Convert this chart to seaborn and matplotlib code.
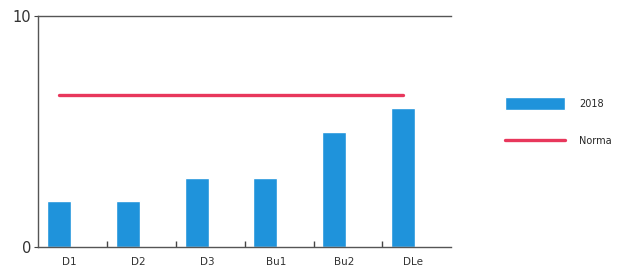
import numpy as np
import pandas as pd
import matplotlib
matplotlib.use("Agg")
import matplotlib.pyplot as plt
import seaborn as sns

# data
categories = ["D1", "D2", "D3", "Bu1", "Bu2", "DLe"]
values_2018 = [2, 2, 3, 3, 5, 6]
norma = [6.6, 6.6, 6.6, 6.6, 6.6, 6.6]

bar_color = "#1F93DB"
line_color = "#E8375C"

sns.set_style("white")
plt.rcParams["font.family"] = ["DejaVu Sans"]

df = pd.DataFrame({"cat": categories, "val": values_2018, "norma": norma})
df["pos"] = np.arange(len(categories))

fig = plt.figure(figsize=(6.29, 2.79), dpi=100)
ax = fig.add_axes([38 / 629, 32 / 279, 413 / 629, 231 / 279])

sns.barplot(data=df, x="pos", y="val", native_scale=True, width=0.35,
            color=bar_color, saturation=1, label="2018", ax=ax)
sns.lineplot(data=df, x="pos", y="norma", color=line_color, linewidth=2.4,
             label="Norma", ax=ax)

ax.set_xlim(-0.31, 5.70)
ax.set_ylim(0, 10)
ax.set_yticks([0, 10])
ax.set_yticklabels(["0", "10"], fontsize=10.5, color="#333333")

# category labels sit slightly right of the bars, slot dividers as small ticks
ax.set_xticks(df["pos"] + 0.15)
ax.set_xticklabels(categories, fontsize=7.5, color="#333333")
ax.tick_params(axis="x", which="major", bottom=True, length=0, pad=7)
ax.set_xticks(np.arange(len(categories) - 1) + 0.7, minor=True)
ax.tick_params(axis="x", which="minor", bottom=True, direction="in",
               length=4, width=1, color="#444444")
ax.tick_params(axis="y", left=True, length=3, direction="out",
               color="#444444", pad=2)
ax.set_xlabel("")
ax.set_ylabel("")

for side in ["left", "bottom", "top"]:
    ax.spines[side].set_visible(True)
    ax.spines[side].set_color("#555555")
    ax.spines[side].set_linewidth(1.0)
ax.spines["right"].set_visible(False)

handles, labels = ax.get_legend_handles_labels()
order = [labels.index("2018"), labels.index("Norma")]
ax.legend([handles[i] for i in order], [labels[i] for i in order],
          loc="center left", bbox_to_anchor=(1.11, 0.54), frameon=False,
          fontsize=7, handlelength=6.2, handleheight=1.6, labelspacing=2.6,
          handletextpad=1.4)

fig.savefig("out.png", dpi=100)
